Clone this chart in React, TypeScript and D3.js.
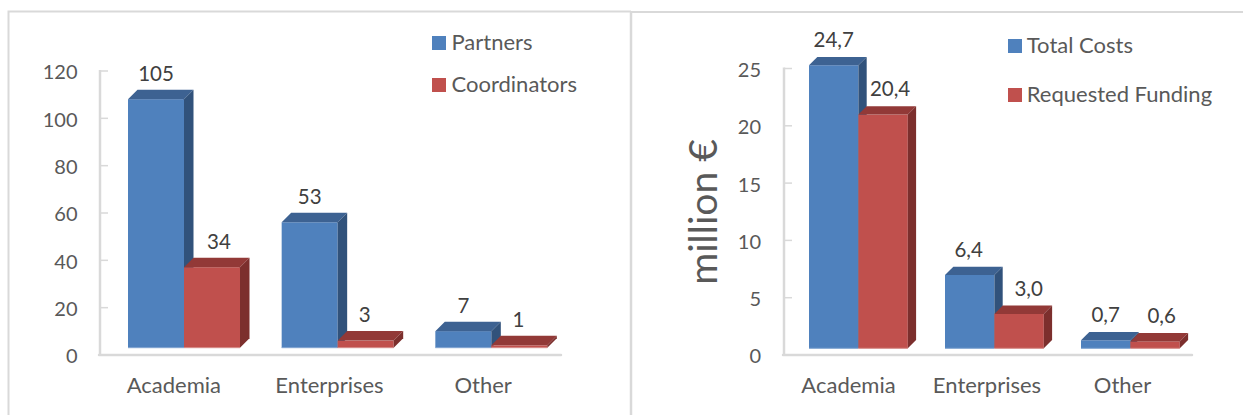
import React from 'react';
import * as d3 from 'd3';

const categories = ['Academia', 'Enterprises', 'Other'];

// left chart: number of organisations
const partners = [105, 53, 7];
const coordinators = [34, 3, 1];
const countTicks = [0, 20, 40, 60, 80, 100, 120];

// right chart: million euro
const totalCosts = [24.7, 6.4, 0.7];
const requestedFunding = [20.4, 3.0, 0.6];
const costTicks = [0, 5, 10, 15, 20, 25];

// labels were nudged by hand in the original, these are the x shifts
const countNudges = [[0, 0, 0], [7, -1, -1]];
const costNudges = [[0, -1, 0], [7, 9.5, 6.5]];

const BLUE = { front: '#4f81bd', top: '#3d6292', side: '#31527b', edge: '#7fa3d0' };
const RED = { front: '#c0504d', top: '#923937', side: '#7c2f2d', edge: '#d58a88' };
const GRID = '#d9d9d9';
const TEXT = '#595959';
const LABEL = '#404040';
const FONT = 'Lato, sans-serif';

const polygon = (pts: number[][]) => {
  const p = d3.path();
  pts.forEach(([x, y], i) => (i === 0 ? p.moveTo(x, y) : p.lineTo(x, y)));
  p.closePath();
  return p.toString();
};

const Chart = ({ series, names, ticks, nudges, fmt, g }: any) => {
  const x0 = d3.scaleBand<string>().domain(categories).range([g.left, g.right]);
  const x1 = d3
    .scaleBand<number>()
    .domain(series.map((_: any, i: number) => i))
    .range([g.offset, g.offset + g.barW * 2]);
  // axis sits on the back wall, bars are drawn shifted forward
  const yAxis = d3.scaleLinear().domain(d3.extent(ticks) as any).range([g.bottom, g.top]);
  const shift = g.bottom - g.base;
  const colors = [BLUE, RED];

  return (
    <g>
      <line x1={g.left} x2={g.left} y1={g.top - 1} y2={g.bottom + 1} stroke={GRID} strokeWidth={2.5} />
      <line x1={g.left - 1} x2={g.right} y1={g.bottom} y2={g.bottom} stroke={GRID} strokeWidth={2.5} strokeLinecap="round" />
      {ticks.map((t: number) => (
        <g key={t}>
          <line x1={g.left} x2={g.left + 8} y1={yAxis(t)} y2={yAxis(t)} stroke={GRID} strokeWidth={1.5} />
          <text x={g.tickEnd} y={yAxis(t) + 1.2} dy="0.36em" textAnchor="end" fill={TEXT} fontFamily={FONT} fontSize={g.font}>
            {t}
          </text>
        </g>
      ))}
      {categories.map((c, ci) => (
        <g key={c}>
          {series.map((vals: number[], si: number) => {
            const x = x0(c)! + x1(si)!;
            const w = x1.bandwidth();
            const yt = yAxis(vals[ci]) - shift;
            const d = g.depth;
            return (
              <g key={si}>
                <rect x={x} y={yt} width={w} height={g.base - yt} fill={colors[si].front} />
                <line x1={x} x2={x + w} y1={g.base} y2={g.base} stroke={colors[si].edge} strokeWidth={1} />
                <path d={polygon([[x, yt], [x + d, yt - d], [x + w + d, yt - d], [x + w, yt]])} fill={colors[si].top} />
                <path d={polygon([[x + w, yt], [x + w + d, yt - d], [x + w + d, g.base - d], [x + w, g.base]])} fill={colors[si].side} />
              </g>
            );
          })}
          <text x={x0(c)! + x0.bandwidth() / 2 + g.catShift[ci]} y={393} textAnchor="middle" fill={TEXT} fontFamily={FONT} fontSize={g.wordFont}>
            {c}
          </text>
        </g>
      ))}
      {/* value labels on top so the neighbouring bar never hides them */}
      {categories.map((c, ci) =>
        series.map((vals: number[], si: number) => (
          <text
            key={c + si}
            x={x0(c)! + x1(si)! + x1.bandwidth() / 2 + nudges[si][ci]}
            y={yAxis(vals[ci]) - shift - g.depth - g.labelGap}
            dy="0.36em"
            textAnchor="middle"
            fill={LABEL}
            fontFamily={FONT}
            fontSize={g.labelFont}
          >
            {fmt(vals[ci])}
          </text>
        ))
      )}
      {names.map((n: string, i: number) => (
        <g key={n}>
          <rect x={g.legendX} y={g.legendY[i]} width={14} height={14} fill={colors[i].front} />
          <text x={g.legendX + g.legendGap} y={g.legendY[i] + 6.2} dy="0.36em" fill={TEXT} fontFamily={FONT} fontSize={g.wordFont}>
            {n}
          </text>
        </g>
      ))}
    </g>
  );
};

export default function App() {
  const comma = (v: number) => d3.format('.1f')(v).replace('.', ',');
  return (
    <svg width={1243} height={415} style={{ position: 'absolute', left: 0, top: 0, background: '#fff' }}>
      {/* panel frames */}
      <path d="M8.5,415V11.5H631" fill="none" stroke={GRID} strokeWidth={2} />
      <line x1={631} x2={631} y1={11} y2={415} stroke={GRID} strokeWidth={2.5} />
      <line x1={631} x2={1243} y1={12} y2={12} stroke={GRID} strokeWidth={2} />

      <Chart
        series={[partners, coordinators]}
        names={['Partners', 'Coordinators']}
        ticks={countTicks}
        nudges={countNudges}
        fmt={(v: number) => String(v)}
        g={{
          left: 100, right: 561, top: 71, bottom: 355, base: 347.7, depth: 9.5,
          offset: 28, barW: 56, tickEnd: 77.5, font: 20, wordFont: 22, labelFont: 20.5, labelGap: 16,
          legendX: 432, legendY: [36, 78], legendGap: 19.5, catShift: [-3, -1, -1],
        }}
      />
      <Chart
        series={[totalCosts, requestedFunding]}
        names={['Total Costs', 'Requested Funding']}
        ticks={costTicks}
        nudges={costNudges}
        fmt={comma}
        g={{
          left: 784, right: 1192, top: 68.5, bottom: 355, base: 348.3, depth: 8.3,
          offset: 25, barW: 49.4, tickEnd: 761, font: 20, wordFont: 22, labelFont: 20.5, labelGap: 17.3,
          legendX: 1008, legendY: [39, 88], legendGap: 18.8, catShift: [-3.5, -1, -1.5],
        }}
      />
      <text
        transform="translate(716.5,212) rotate(-90)"
        textAnchor="middle"
        fill={TEXT}
        fontFamily={FONT}
        fontSize={39}
      >
        million €
      </text>
    </svg>
  );
}
